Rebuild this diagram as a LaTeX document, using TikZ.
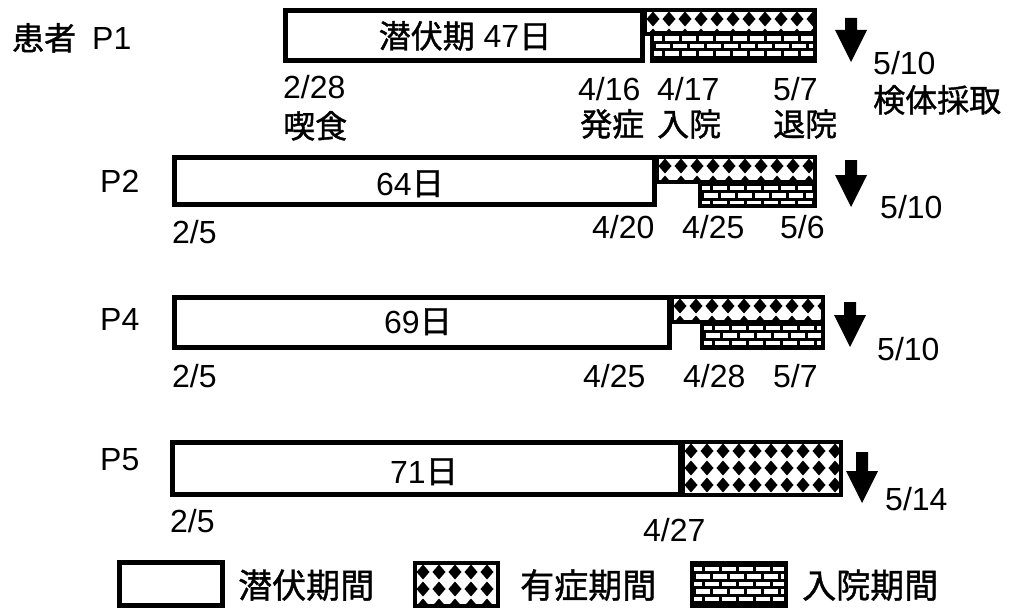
\documentclass[tikz,border=0pt]{standalone}
\usepackage{fontspec}
\setmainfont{Liberation Sans}
\newfontfamily\cjk[FakeBold=1.2]{Noto Sans CJK JP}
\tikzset{
 lbl/.style={inner sep=0pt, anchor=base west, font=\fontsize{32}{36}\selectfont},
 ctr/.style={inner sep=0pt, anchor=base, font=\fontsize{32}{36}\selectfont},
 leg/.style={inner sep=0pt, anchor=base west, font=\fontsize{34}{38}\selectfont\cjk},
 latbox/.style={draw=black, line width=5pt, fill=white},
 pbox/.style={draw=black, line width=4pt},
}
\newcommand\checkerR[4]{%
 \fill[white] (#1,#2) rectangle (#3,#4);
 \begin{scope}
 \clip (#1,#2) rectangle (#3,#4);
 \foreach \i in {0,...,12}{\foreach \j in {0,...,3}{
   \fill ({#1+8+16*\i},{#2+9+17*\j}) +(0,-7.5) -- +(6.5,0) -- +(0,7.5) -- +(-6.5,0) -- cycle;}}
 \end{scope}
 \draw[pbox] (#1,#2) rectangle (#3,#4);
}
\newcommand\brickR[4]{%
 \fill[black] (#1,#2) rectangle (#3,#4);
 \begin{scope}
 \clip (#1,#2) rectangle (#3,#4);
 \foreach \j in {0,...,6}{\foreach \i in {0,...,11}{
   \pgfmathsetmacro\bx{#1-4+17*\i+mod(\j,2)*8}
   \pgfmathsetmacro\by{#2+3.5+7.5*\j}
   \fill[white] (\bx,\by) rectangle ++(14,4.5);}}
 \end{scope}
 \draw[pbox] (#1,#2) rectangle (#3,#4);
}
\newcommand\darrowshape[3]{%
 \fill ({#1-6},#2) -- ({#1+6},#2) -- ({#1+6},{#3-32}) -- ({#1+16},{#3-32}) -- (#1,#3) -- ({#1-16},{#3-32}) -- ({#1-6},{#3-32}) -- cycle;
}
\begin{document}
\begin{tikzpicture}[x=1pt,y=-1pt]
\useasboundingbox (0,0) rectangle (1018,610);
% P1
\draw[latbox] (285.5,10.5) rectangle (642.5,60.5);
\checkerR{645}{10}{815}{34}
\brickR{652}{33}{815}{61}
\darrowshape{851}{18}{62}
\node[lbl] (hk) at (12,50) {\cjk 患者};
\node[lbl] (p1) at (92,50) {P1};
\node[ctr] (l1) at (465,48) {{\cjk 潜伏期} 47{\cjk 日}};
\node[lbl] (d1a) at (283,99) {2/28};
\node[lbl] (e1a) at (283,138) {\cjk 喫食};
\node[lbl] (d1b) at (578,100) {4/16};
\node[lbl] (e1b) at (580,136) {\cjk 発症};
\node[lbl] (d1c) at (657,100) {4/17};
\node[lbl] (e1c) at (657,136) {\cjk 入院};
\node[lbl] (d1d) at (773,100) {5/7};
\node[lbl] (e1d) at (773,136) {\cjk 退院};
\node[lbl] (s1) at (873,75) {5/10};
\node[lbl] (s1b) at (873,112) {\cjk 検体採取};
% P2
\draw[latbox] (174.5,157.5) rectangle (654.5,204.5);
\checkerR{657}{157}{815}{182}
\brickR{700}{182}{815}{206}
\darrowshape{851}{160}{207}
\node[lbl] (p2) at (100,192) {P2};
\node[ctr] (l2) at (410,195) {64{\cjk 日}};
\node[lbl] (d2a) at (172,243) {2/5};
\node[lbl] (d2b) at (592,238) {4/20};
\node[lbl] (d2c) at (682,238) {4/25};
\node[lbl] (d2d) at (780,238) {5/6};
\node[lbl] (s2) at (880,218) {5/10};
% P4
\draw[latbox] (174.5,297.5) rectangle (669.5,347.5);
\checkerR{672}{297}{823}{322}
\brickR{702}{322}{823}{348}
\darrowshape{850}{302}{347}
\node[lbl] (p4) at (100,330) {P4};
\node[ctr] (l4) at (418,333) {69{\cjk 日}};
\node[lbl] (d4a) at (172,387) {2/5};
\node[lbl] (d4b) at (583,387) {4/25};
\node[lbl] (d4c) at (683,387) {4/28};
\node[lbl] (d4d) at (773,387) {5/7};
\node[lbl] (s4) at (877,360) {5/10};
% P5
\draw[latbox] (172.5,442.5) rectangle (680.5,494.5);
\checkerR{683}{442}{841}{495}
\darrowshape{862}{452}{503}
\node[lbl] (p5) at (100,470) {P5};
\node[ctr] (l5) at (424,483) {71{\cjk 日}};
\node[lbl] (d5a) at (170,532) {2/5};
\node[lbl] (d5b) at (643,541) {4/27};
\node[lbl] (s5) at (885,510) {5/14};
% legend
\draw[latbox] (119.5,562.5) rectangle (222.5,605.5);
\node[leg] (g1) at (238,598) {潜伏期間};
\checkerR{415}{563}{498}{606}
\node[leg] (g2) at (520,598) {有症期間};
\brickR{692}{563}{786}{606}
\node[leg] (g3) at (802,598) {入院期間};
\end{tikzpicture}
\end{document}
